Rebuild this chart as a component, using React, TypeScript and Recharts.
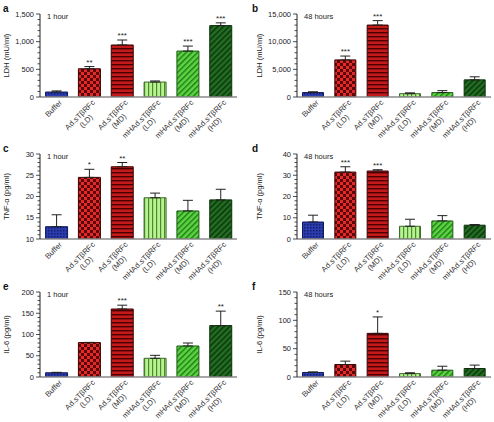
import { BarChart, Bar, XAxis, YAxis, Cell, ErrorBar, LabelList } from 'recharts';

const categories = ['Buffer', 'Ad.sTβRFc\n(LD)', 'Ad.sTβRFc\n(MD)', 'mHAd.sTβRFc\n(LD)', 'mHAd.sTβRFc\n(MD)', 'mHAd.sTβRFc\n(HD)'];

const ldh1hMean = [90, 510, 940, 270, 830, 1290];
const ldh1hErr = [20, 40, 90, 20, 90, 50];
const ldh1hStars = ['', '**', '***', '', '***', '***'];

const ldh48hMean = [800, 6700, 13000, 600, 800, 3100];
const ldh48hErr = [150, 700, 800, 150, 350, 550];
const ldh48hStars = ['', '***', '***', '', '', ''];

const tnf1hMean = [12.9, 24.5, 27, 19.7, 16.6, 19.2];
const tnf1hErr = [2.8, 1.9, 1, 1.1, 2.5, 2.5];
const tnf1hStars = ['', '*', '**', '', '', ''];

const tnf48hMean = [8, 31.5, 32, 6, 8.5, 6.5];
const tnf48hErr = [3.2, 2.5, 0.6, 3.3, 2.5, 0.3];
const tnf48hStars = ['', '***', '***', '', '', ''];

const il61hMean = [10, 81, 160, 44, 73, 121];
const il61hErr = [1, 0.5, 9, 7, 7, 34];
const il61hStars = ['', '', '***', '', '', '**'];

const il648hMean = [8, 22, 77, 6, 12, 15];
const il648hErr = [1, 6, 29, 1.5, 7, 6];
const il648hStars = ['', '', '*', '', '', ''];

const FONT = '"Liberation Sans", Arial, sans-serif';
const strokes = ['#101a5a', '#3a0000', '#3a0000', '#3d6a28', '#1f5a16', '#0c300c'];
const fmt = (v: number) => v.toLocaleString('en-US');

function Patterns({ id }: { id: string }) {
  return (
    <defs>
      <pattern id={`${id}-0`} width={3} height={3} patternUnits="userSpaceOnUse">
        <rect width={3} height={3} fill="#2b3cae" />
        <rect width={1.5} height={1.5} fill="#14206e" />
      </pattern>
      <pattern id={`${id}-1`} width={6} height={6} patternUnits="userSpaceOnUse">
        <rect width={6} height={6} fill="#e22a2a" />
        <rect width={3} height={3} fill="#5c0808" />
        <rect x={3} y={3} width={3} height={3} fill="#5c0808" />
      </pattern>
      <pattern id={`${id}-2`} width={4} height={4} patternUnits="userSpaceOnUse">
        <rect width={4} height={4} fill="#c41a1a" />
        <rect y={0} width={4} height={1.4} fill="#4a0000" />
      </pattern>
      <pattern id={`${id}-3`} width={4} height={4} patternUnits="userSpaceOnUse">
        <rect width={4} height={4} fill="#b8f292" />
        <rect x={0} width={1.2} height={4} fill="#4c8a2c" />
      </pattern>
      <pattern id={`${id}-4`} width={4} height={4} patternUnits="userSpaceOnUse" patternTransform="rotate(45)">
        <rect width={4} height={4} fill="#5cd444" />
        <rect width={1.4} height={4} fill="#1e7a14" />
      </pattern>
      <pattern id={`${id}-5`} width={4} height={4} patternUnits="userSpaceOnUse" patternTransform="rotate(45)">
        <rect width={4} height={4} fill="#226e22" />
        <rect width={1.4} height={4} fill="#0a320a" />
      </pattern>
    </defs>
  );
}

function XTick(props: any) {
  const { x, y, payload } = props;
  const lines = String(payload.value).split('\n');
  const w1 = lines[0].length * 4.3;
  return (
    <g transform={`translate(${x + 4},${y + 1})`}>
      <text transform="rotate(-45)" fontSize={7.7} fill="#333" fontFamily={FONT}>
        <tspan x={0} dy={3} textAnchor="end">{lines[0]}</tspan>
        {lines[1] && <tspan x={-w1 / 2} dy={8.8} textAnchor="middle">{lines[1]}</tspan>}
      </text>
    </g>
  );
}

function YTick(props: any) {
  const { y, payload, axisX, majors } = props;
  const major = majors.includes(payload.value);
  return (
    <g>
      <line x1={axisX} x2={axisX - (major ? 4 : 2.5)} y1={y} y2={y} stroke="#222" strokeWidth={0.8} />
      {major && (
        <text x={axisX - 6} y={y} dy={2.6} textAnchor="end" fontSize={7.5} fill="#222" fontFamily={FONT}>
          {fmt(payload.value)}
        </text>
      )}
    </g>
  );
}

type PanelProps = {
  id: string;
  letter: string;
  time: string;
  yLabel: string;
  left: number;
  top: number;
  height: number;
  xHeight: number;
  yWidth: number;
  right: number;
  domain: [number, number];
  majors: number[];
  minorStep: number;
  mean: number[];
  err: number[];
  stars: string[];
};

function Panel(p: PanelProps) {
  const data = categories.map((name, i) => ({ name, value: p.mean[i], err: [0, p.err[i]], star: p.stars[i] }));
  const ticks: number[] = [];
  for (let v = p.domain[0]; v <= p.domain[1] + 1e-9; v += p.minorStep) ticks.push(Math.round(v * 1000) / 1000);
  const isRight = p.left > 0;
  const star = (lp: any) => {
    const { x, y, width, height, index, value } = lp;
    if (!value) return null;
    const unit = height / (p.mean[index] - p.domain[0]);
    return (
      <text key={index} x={x + width / 2} y={y - p.err[index] * unit - 2} textAnchor="middle" fontSize={8} fill="#222" fontFamily={FONT}>
        {value}
      </text>
    );
  };
  return (
    <div style={{ position: 'absolute', left: p.left, top: p.top, width: 247, height: p.height }}>
      <BarChart width={247} height={p.height} data={data} margin={{ top: 14, right: p.right, left: 0, bottom: 0 }} barCategoryGap="17%">
        <Patterns id={p.id} />
        <XAxis dataKey="name" interval={0} height={p.xHeight} tick={<XTick />} tickLine={false} tickSize={2} tickMargin={1}
          axisLine={{ stroke: '#8a8a8a', strokeWidth: 1.6 }} />
        <YAxis width={p.yWidth} domain={p.domain} ticks={ticks} interval={0} allowDataOverflow tickLine={false}
          tick={<YTick axisX={p.yWidth} majors={p.majors} />} axisLine={{ stroke: '#222', strokeWidth: 1 }}
          label={{ value: p.yLabel, angle: -90, position: 'insideLeft', offset: isRight ? 12 : 6, style: { fontSize: 7.5, fill: '#222', fontFamily: FONT, textAnchor: 'middle' } }} />
        <Bar dataKey="value" isAnimationActive={false} strokeWidth={1}>
          {data.map((_, i) => (
            <Cell key={i} fill={`url(#${p.id}-${i})`} stroke={strokes[i]} />
          ))}
          <ErrorBar dataKey="err" width={5} stroke="#222" strokeWidth={1} direction="y" />
          <LabelList dataKey="star" content={star} />
        </Bar>
      </BarChart>
      <div style={{ position: 'absolute', left: isRight ? 5 : 3, top: 3, fontFamily: FONT, fontSize: 10, fontWeight: 'bold', color: '#111' }}>
        {p.letter}
      </div>
      <div style={{ position: 'absolute', left: p.yWidth + 7, top: 12, fontFamily: FONT, fontSize: 7.5, color: '#222', whiteSpace: 'nowrap' }}>
        {p.time}
      </div>
    </div>
  );
}

export default function App() {
  return (
    <div style={{ position: 'absolute', left: 0, top: 0, width: 494, height: 422, background: '#fff' }}>
      <Panel id="al" letter="a" time="1 hour" yLabel="LDH (mU/ml)" left={0} top={0} height={145} xHeight={48} yWidth={40} right={10}
        domain={[0, 1500]} majors={[0, 500, 1000, 1500]} minorStep={100} mean={ldh1hMean} err={ldh1hErr} stars={ldh1hStars} />
      <Panel id="br" letter="b" time="48 hours" yLabel="LDH (mU/ml)" left={247} top={0} height={145} xHeight={48} yWidth={50} right={3}
        domain={[0, 15000]} majors={[0, 5000, 10000, 15000]} minorStep={1000} mean={ldh48hMean} err={ldh48hErr} stars={ldh48hStars} />
      <Panel id="cl" letter="c" time="1 hour" yLabel="TNF-α (pg/ml)" left={0} top={140} height={145} xHeight={46} yWidth={40} right={10}
        domain={[10, 30]} majors={[10, 15, 20, 25, 30]} minorStep={1} mean={tnf1hMean} err={tnf1hErr} stars={tnf1hStars} />
      <Panel id="dr" letter="d" time="48 hours" yLabel="TNF-α (pg/ml)" left={247} top={140} height={145} xHeight={46} yWidth={50} right={3}
        domain={[0, 40]} majors={[0, 10, 20, 30, 40]} minorStep={2} mean={tnf48hMean} err={tnf48hErr} stars={tnf48hStars} />
      <Panel id="el" letter="e" time="1 hour" yLabel="IL-6 (pg/ml)" left={0} top={278} height={144} xHeight={45} yWidth={40} right={10}
        domain={[0, 200]} majors={[0, 50, 100, 150, 200]} minorStep={10} mean={il61hMean} err={il61hErr} stars={il61hStars} />
      <Panel id="fr" letter="f" time="48 hours" yLabel="IL-6 (pg/ml)" left={247} top={278} height={144} xHeight={45} yWidth={50} right={3}
        domain={[0, 150]} majors={[0, 50, 100, 150]} minorStep={10} mean={il648hMean} err={il648hErr} stars={il648hStars} />
    </div>
  );
}
